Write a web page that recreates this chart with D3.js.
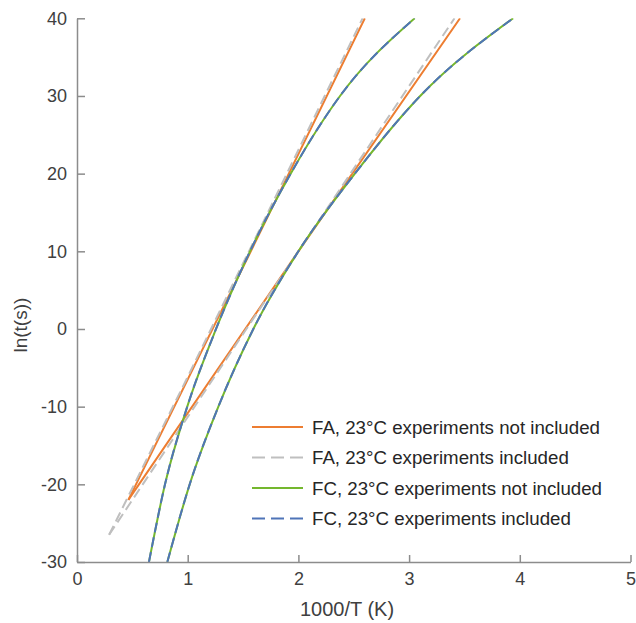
<!DOCTYPE html>
<html>
<head>
<meta charset="utf-8">
<script src="https://cdn.jsdelivr.net/npm/d3@7"></script>
<style>
  body { margin: 0; background: #fff; }
  svg { font-family: "Liberation Sans", Arial, sans-serif; }
</style>
</head>
<body>
<svg id="chart" width="636" height="623"></svg>
<script>
// values, [1000/T, ln(t)]
const faExclA = [[0.464, -22], [1.57, 10], [2.60, 40]];
const faExclB = [[0.464, -22], [2.0, 10], [3.46, 40]];
const faInclA = [[0.29, -26.5], [0.985, -6.6], [2.58, 40]];
const faInclB = [[0.29, -26.5], [1.53, 0], [3.41, 40]];
const fcExclA = [[0.65, -30], [0.795, -20], [0.996, -10], [1.256, 0], [1.563, 10], [1.93, 20], [2.376, 30], [3.05, 40]];
const fcExclB = [[0.816, -30], [1.018, -20], [1.277, -10], [1.593, 0], [2.0, 10], [2.51, 20], [3.10, 30], [3.94, 40]];
const fcInclA = [[0.65, -30], [0.795, -20], [0.996, -10], [1.256, 0], [1.563, 10], [1.93, 20], [2.376, 30], [3.05, 40]];
const fcInclB = [[0.816, -30], [1.018, -20], [1.277, -10], [1.593, 0], [2.0, 10], [2.51, 20], [3.10, 30], [3.94, 40]];

const seriesNames = [
  "FA, 23°C experiments not included",
  "FA, 23°C experiments included",
  "FC, 23°C experiments not included",
  "FC, 23°C experiments included"
];
const xTicks = [0, 1, 2, 3, 4, 5];
const yTicks = [-30, -20, -10, 0, 10, 20, 30, 40];

const series = [
  { name: seriesNames[0], color: "#ED7D31", dash: null, curved: false, parts: [faExclA, faExclB] },
  { name: seriesNames[1], color: "#BFBFBF", dash: "10,5", curved: false, parts: [faInclA, faInclB] },
  { name: seriesNames[2], color: "#74B72E", dash: null, curved: true, parts: [fcExclA, fcExclB] },
  { name: seriesNames[3], color: "#4F74B8", dash: "10,5", curved: true, parts: [fcInclA, fcInclB] }
];

const svg = d3.select("#chart");
const margin = { top: 18.3, right: 5.5, bottom: 61, left: 77 };
const W = 636, H = 623;

const x = d3.scaleLinear().domain([0, 5]).range([margin.left, W - margin.right]);
const y = d3.scaleLinear().domain([-30, 40]).range([H - margin.bottom, margin.top]);

svg.append("clipPath").attr("id", "clip")
  .append("rect")
  .attr("x", margin.left).attr("y", margin.top)
  .attr("width", x(5) - x(0)).attr("height", y(-30) - y(40));

const g = svg.append("g").attr("clip-path", "url(#clip)");

series.forEach(s => {
  const line = d3.line()
    .x(d => x(d[0]))
    .y(d => y(d[1]))
    .curve(s.curved ? d3.curveMonotoneX : d3.curveLinear);
  s.parts.forEach(p => {
    g.append("path")
      .attr("d", line(p))
      .attr("fill", "none")
      .attr("stroke", s.color)
      .attr("stroke-width", 2)
      .attr("stroke-dasharray", s.dash);
  });
});

// axes
const axisColor = "#8C8C8C";
const textColor = "#404040";

const xAxis = svg.append("g")
  .attr("transform", `translate(0,${y(-30)})`)
  .call(d3.axisBottom(x).tickValues(xTicks).tickFormat(d => String(d)).tickSizeInner(-7).tickSizeOuter(0).tickPadding(10));
const yAxis = svg.append("g")
  .attr("transform", `translate(${x(0)},0)`)
  .call(d3.axisLeft(y).tickValues(yTicks).tickFormat(d => String(d)).tickSizeInner(-8).tickSizeOuter(0));

[xAxis, yAxis].forEach(a => {
  a.select(".domain").attr("stroke", axisColor).attr("stroke-width", 1.5);
  a.selectAll(".tick line").attr("stroke", axisColor).attr("stroke-width", 1.5);
  a.selectAll(".tick text").attr("fill", textColor).style("font-size", "18px");
});
yAxis.selectAll(".tick text").attr("x", -10);

svg.append("text")
  .attr("x", 300)
  .attr("y", 616)
  .attr("fill", textColor)
  .style("font-size", "20px")
  .text("1000/T (K)");

svg.append("text")
  .attr("transform", `translate(27,${(y(-30) + y(40)) / 2 + 35}) rotate(-90)`)
  .attr("text-anchor", "middle")
  .attr("fill", textColor)
  .style("font-size", "19px")
  .text("ln(t(s))");

// legend
const legend = svg.append("g");
series.forEach((s, i) => {
  const cy = 427 + i * 30.5;
  legend.append("line")
    .attr("x1", 252).attr("x2", 303)
    .attr("y1", cy).attr("y2", cy)
    .attr("stroke", s.color)
    .attr("stroke-width", 2)
    .attr("stroke-dasharray", s.dash ? "13,6" : null);
  legend.append("text")
    .attr("x", 312)
    .attr("y", cy + 6.5)
    .attr("fill", "#262626")
    .style("font-size", "18.7px")
    .text(s.name);
});
</script>
</body>
</html>
